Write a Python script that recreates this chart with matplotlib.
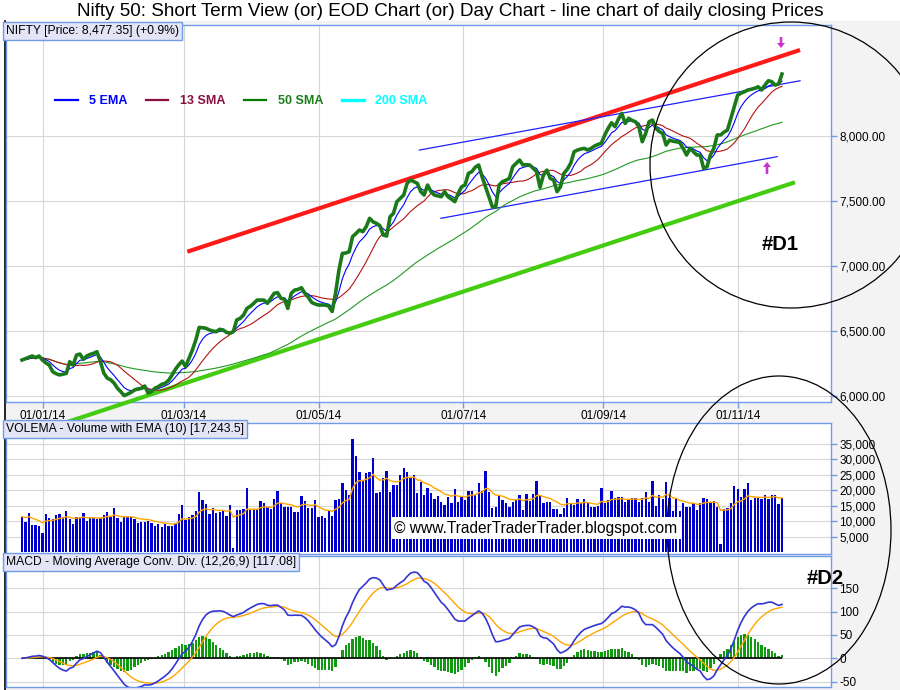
import numpy as np
import pandas as pd
import matplotlib
matplotlib.use('Agg')
import matplotlib.pyplot as plt
from matplotlib.patches import Ellipse, Rectangle, FancyArrow
from matplotlib.lines import Line2D

plt.rcParams['font.family'] = ['Liberation Sans', 'DejaVu Sans']

# ---------------- data ----------------
close = [
    6277, 6287, 6298, 6308, 6295, 6308, 6277, 6255, 6238, 6187,
    6172, 6162, 6168, 6174, 6264, 6238, 6315, 6323, 6282, 6308,
    6320, 6328, 6341, 6264, 6177, 6138, 6125, 6100, 6060, 6033,
    6003, 6015, 6028, 6046, 6055, 6059, 6077, 6023, 6035, 6060,
    6072, 6090, 6097, 6120, 6160, 6205, 6240, 6269, 6226, 6290,
    6354, 6431, 6528, 6525, 6521, 6508, 6500, 6495, 6513, 6508,
    6490, 6482, 6495, 6585, 6597, 6623, 6674, 6690, 6713, 6738,
    6738, 6738, 6713, 6751, 6790, 6795, 6751, 6745, 6674, 6790,
    6815, 6820, 6833, 6790, 6760, 6720, 6708, 6700, 6700, 6700,
    6692, 6650, 6790, 6969, 7097, 7100, 7110, 7226, 7250, 7277,
    7264, 7303, 7367, 7340, 7328, 7310, 7238, 7231, 7379, 7405,
    7495, 7520, 7546, 7636, 7662, 7649, 7636, 7572, 7546, 7623,
    7572, 7546, 7540, 7533, 7572, 7533, 7515, 7495, 7559, 7610,
    7623, 7713, 7726, 7760, 7777, 7687, 7610, 7533, 7456, 7456,
    7623, 7649, 7660, 7674, 7764, 7790, 7815, 7777, 7780, 7777,
    7751, 7726, 7605, 7700, 7738, 7674, 7662, 7572, 7610, 7713,
    7744, 7790, 7879, 7892, 7900, 7905, 7892, 7905, 7923, 7935,
    7944, 8008, 8060, 8102, 8072, 8130, 8174, 8097, 8136, 8120,
    8110, 8072, 7956, 8020, 8110, 8123, 8059, 8035, 8020, 7931,
    7969, 7960, 7956, 7950, 7905, 7854, 7905, 7879, 7854, 7854,
    7751, 7764, 7854, 7905, 8008, 8008, 8030, 8046, 8136, 8226,
    8315, 8330, 8341, 8354, 8360, 8367, 8379, 8354, 8392, 8425,
    8418, 8392, 8400, 8477,
]

volume_k = [
    11.5, 9.9, 12.8, 8.8, 8.8, 8.5, 6.3, 12.4, 11.0, 10.8,
    12.0, 12.4, 11.5, 13.4, 10.8, 9.1, 11.3, 11.5, 12.6, 10.2,
    11.0, 11.0, 10.8, 11.0, 12.0, 13.1, 11.5, 14.2, 11.0, 9.9,
    11.3, 11.3, 11.5, 10.6, 9.4, 9.9, 9.9, 10.2, 9.4, 8.5,
    9.1, 8.1, 9.1, 8.5, 8.5, 9.4, 12.4, 15.3, 10.4, 11.5,
    12.0, 13.4, 19.6, 16.9, 15.6, 12.4, 14.2, 12.6, 13.1, 13.7,
    11.7, 15.3, 1.3, 13.7, 13.7, 13.9, 20.6, 13.7, 13.9, 13.7,
    16.7, 15.8, 14.5, 13.9, 17.1, 19.9, 16.0, 14.7, 14.7, 14.5,
    13.1, 13.1, 18.2, 16.7, 14.2, 14.2, 16.9, 11.5, 11.7, 11.0,
    13.4, 11.7, 16.9, 17.1, 22.5, 20.1, 18.5, 36.6, 30.9, 26.0,
    23.1, 25.7, 26.0, 30.3, 19.2, 19.6, 23.9, 26.2, 19.6, 21.7,
    21.7, 24.9, 27.1, 26.0, 23.9, 24.9, 19.0, 22.8, 18.5, 20.6,
    19.2, 17.1, 18.0, 16.3, 15.3, 17.7,
    15.8, 20.4, 16.3, 17.7, 16.9, 19.9, 19.9, 18.5, 22.3, 19.9,
    26.3, 19.6, 14.2, 14.7, 18.0, 16.9, 15.8, 14.5, 16.3, 16.9,
    18.5, 13.7, 18.8, 16.7, 18.8, 23.0, 18.5, 16.0, 16.3, 16.1,
    13.9, 13.9, 12.3, 14.2, 17.4, 16.0, 15.3, 17.1, 15.8, 17.1,
    15.8, 14.7, 14.7, 14.9, 20.6, 15.8, 16.9, 19.8, 17.4, 17.7,
    17.7, 16.3, 16.9, 17.4, 17.4, 16.3, 17.4, 19.6, 16.3, 23.0,
    14.9, 18.5, 17.1, 22.8, 17.4, 13.4, 17.1, 13.4, 15.8, 14.5,
    14.5, 15.8, 13.7, 15.8, 17.4, 17.1, 16.3, 16.6, 14.7, 2.7,
    13.9, 14.2, 15.8, 21.4, 20.3, 17.7, 20.3, 22.5, 16.9, 17.4,
    17.4, 17.1, 18.5, 17.1, 18.5, 18.5, 15.6, 17.6,
]

tick_pos = [6.07, 47.45, 87.06, 129.5, 170.6, 210.2]
tick_labels = ['01/01/14', '01/03/14', '01/05/14', '01/07/14', '01/09/14', '01/11/14']
price_ticks = [6000, 6500, 7000, 7500, 8000]
vol_ticks = [5000, 10000, 15000, 20000, 25000, 30000, 35000]
macd_ticks = [-50, 0, 50, 100, 150]

# hand-drawn trend lines (bar index, price)
red_x, red_y = [48.5, 228.3], [7110, 8662]
grn_x, grn_y = [5.3, 226.8], [5731, 7644]
chu_x, chu_y = [116.6, 228.3], [7892, 8425]
chl_x, chl_y = [122.9, 221.6], [7367, 7841]

title = "Nifty 50: Short Term View (or) EOD Chart (or) Day Chart - line chart of daily closing Prices"

# ---------------- derived series ----------------
s = pd.Series(close, dtype=float)
x = np.arange(len(s))
ema5 = s.ewm(span=5, adjust=False).mean()
sma13 = s.rolling(13, min_periods=1).mean()
sma50 = s.rolling(50, min_periods=1).mean()
macd = s.ewm(span=12, adjust=False).mean() - s.ewm(span=26, adjust=False).mean()
signal = macd.ewm(span=9, adjust=False).mean()
hist = macd - signal
vol = pd.Series(volume_k) * 1000
xv = np.arange(len(vol))
vol_ema = vol.ewm(span=10, adjust=False).mean()

# ---------------- layout ----------------
W, H = 900, 690
def rect(l, t, r, b):
    return [l / W, 1 - b / H, (r - l) / W, (b - t) / H]

BORDER = '#6F9BE8'
GRID = '#d6d6d6'
px = 3.408
x_left = (6 - 22) / px
x_right = (831 - 22) / px

fig = plt.figure(figsize=(9, 6.9), dpi=100, facecolor='white')
bg = fig.add_axes([0, 0, 1, 1], zorder=0)
bg.set_xlim(0, W); bg.set_ylim(H, 0); bg.axis('off')
bg.add_patch(Rectangle((5, 21), 895, 669, facecolor='#f3f3f3', edgecolor='none'))
bg.plot([5, 5], [21, 690], color='black', lw=1.2)

fig.text(0.5, 1 - 11 / H, title, ha='center', va='center', fontsize=13.6)

def style(ax, yticks, ylabels, show_x):
    ax.set_facecolor('white')
    for sp in ax.spines.values():
        sp.set_color(BORDER); sp.set_linewidth(1)
    ax.yaxis.set_ticks_position('right')
    ax.set_yticks(yticks)
    ax.set_yticklabels(ylabels)
    ax.tick_params(axis='y', direction='out', length=4, width=1, color=BORDER,
                   pad=2, labelsize=8.5, labelcolor='black')
    ax.set_xticks(tick_pos)
    if show_x:
        ax.set_xticklabels(tick_labels)
        ax.tick_params(axis='x', direction='out', length=4, width=1, color=BORDER,
                       pad=2, labelsize=8.5)
    else:
        ax.set_xticklabels([])
        ax.tick_params(axis='x', length=0)
    ax.grid(True, color=GRID, lw=0.8)
    ax.set_axisbelow(True)
    ax.set_xlim(x_left, x_right)

def label_box(ax, txt):
    ax.text(0.0, 1.0, txt, transform=ax.transAxes, ha='left', va='top', fontsize=8.7,
            zorder=20, bbox=dict(boxstyle='square,pad=0.22', fc='#e3e5f7', ec=BORDER, lw=1))

# ---- price panel ----
ax1 = fig.add_axes(rect(6, 25, 831, 402), zorder=2)
style(ax1, price_ticks, [f'{v:,.2f}' for v in price_ticks], True)
ax1.set_ylim(5954, 8854)
ax1.plot(red_x, red_y, color='#ff1a1a', lw=3.0, solid_capstyle='butt', zorder=3)
ax1.plot(grn_x, grn_y, color='#44cc11', lw=3.0, solid_capstyle='butt', zorder=3, clip_on=False)
ax1.plot(chu_x, chu_y, color='#2020ff', lw=0.9, zorder=3)
ax1.plot(chl_x, chl_y, color='#2020ff', lw=0.9, zorder=3)
ax1.plot(x, sma50, color='#229922', lw=0.8, zorder=4)
ax1.plot(x, sma13, color='#b41414', lw=0.8, zorder=4)
ax1.plot(x, ema5, color='#0000ff', lw=0.8, zorder=5)
ax1.plot(x, close, color='#1a7a1a', lw=2.6, solid_joinstyle='round', zorder=6)
label_box(ax1, 'NIFTY [Price: 8,477.35] (+0.9%)')

handles = [Line2D([], [], color='#0000ff', lw=1.6),
           Line2D([], [], color='#8b1040', lw=1.6),
           Line2D([], [], color='#007f00', lw=1.6),
           Line2D([], [], color='#00ffff', lw=2.4)]
leg = ax1.legend(handles, ['5 EMA', '13 SMA', '50 SMA', '200 SMA'], ncol=4, frameon=False,
                 loc='center left', bbox_to_anchor=((55 - 6) / 825, (402 - 101) / 377),
                 borderpad=0, borderaxespad=0, handlelength=1.8, handletextpad=0.9,
                 columnspacing=1.5, prop={'weight': 'bold', 'size': 9},
                 labelcolor=['#0000ff', '#8b1040', '#1a7f1a', '#00ffff'])

# ---- volume panel ----
ax2 = fig.add_axes(rect(6, 423, 831, 553.5), zorder=2)
style(ax2, vol_ticks, [f'{v:,}' for v in vol_ticks], False)
ax2.set_ylim(-390, 41700)
ax2.bar(xv, vol, width=0.68, color='#0000cc', zorder=3)
ax2.plot(xv, vol_ema, color='#ffa500', lw=1, zorder=4)
label_box(ax2, 'VOLEMA - Volume with EMA (10) [17,243.5]')

# ---- MACD panel ----
ax3 = fig.add_axes(rect(6, 556, 831, 687), zorder=2)
style(ax3, macd_ticks, [str(v) for v in macd_ticks], False)
ax3.set_ylim(-61.6, 219.5)
ax3.bar(x, hist, width=0.68, color='#119a11', zorder=3)
ax3.hlines(0, x[0], x[-1], color='black', lw=1.2, zorder=4)
ax3.plot(x, signal, color='#ffa500', lw=1, zorder=5)
ax3.plot(x, macd, color='#3535d5', lw=1.2, zorder=6)
label_box(ax3, 'MACD - Moving Average Conv. Div. (12,26,9) [117.08]')

# ---- overlay annotations ----
ov = fig.add_axes([0, 0, 1, 1], zorder=10)
ov.set_xlim(0, W); ov.set_ylim(H, 0); ov.axis('off'); ov.patch.set_alpha(0)
ov.add_patch(Ellipse((791, 165), 282, 286, fill=False, ec='black', lw=0.9))
ov.add_patch(Ellipse((779, 530), 224, 308, fill=False, ec='black', lw=0.9))
ov.text(780, 244, '#D1', ha='center', va='center', fontsize=14.5, fontweight='bold')
ov.text(825, 578, '#D2', ha='center', va='center', fontsize=14.5, fontweight='bold')
ov.add_patch(FancyArrow(781, 37, 0, 11, width=2.6, head_width=8, head_length=5,
                        length_includes_head=True, color='#cc33cc', lw=0))
ov.add_patch(FancyArrow(767, 174, 0, -12, width=2.6, head_width=8, head_length=5,
                        length_includes_head=True, color='#cc33cc', lw=0))
ov.text(536, 528, '\u00a9 www.TraderTraderTrader.blogspot.com', ha='center', va='center',
        fontsize=11.2, color='black',
        bbox=dict(boxstyle='square,pad=0.2', fc='white', ec='none'))

fig.savefig('out.png', dpi=100, facecolor=fig.get_facecolor())
